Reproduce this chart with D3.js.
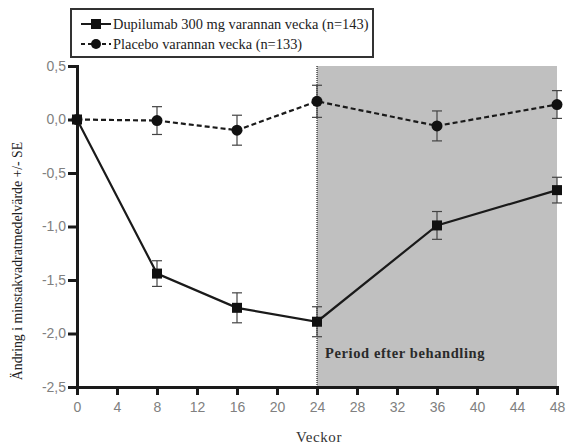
<!DOCTYPE html>
<html>
<head>
<meta charset="utf-8">
<script src="https://cdn.jsdelivr.net/npm/d3@7"></script>
<style>
  body { margin: 0; background: #fff; }
  svg { display: block; }
</style>
</head>
<body>
<svg id="chart" width="566" height="446"></svg>
<script>
// data
const weeks = [0, 8, 16, 24, 36, 48];
const dupilumab = [0, -1.44, -1.76, -1.89, -0.99, -0.66];
const dupilumabSE = [0, 0.12, 0.14, 0.14, 0.13, 0.12];
const placebo = [0, -0.01, -0.10, 0.17, -0.06, 0.14];
const placeboSE = [0, 0.13, 0.14, 0.15, 0.14, 0.13];
const xTicks = [0, 4, 8, 12, 16, 20, 24, 28, 32, 36, 40, 44, 48];
const yTicks = [0.5, 0, -0.5, -1, -1.5, -2, -2.5];
const legendLabels = ["Dupilumab 300 mg varannan vecka (n=143)", "Placebo varannan vecka (n=133)"];

const svg = d3.select("#chart");
const margin = { top: 66, right: 9, bottom: 59, left: 77 };
const width = 566, height = 446;

const x = d3.scaleLinear().domain([0, 48]).range([margin.left, width - margin.right]);
const y = d3.scaleLinear().domain([-2.5, 0.5]).range([height - margin.bottom, margin.top]);
const fmt = d => d3.format(".1f")(d).replace(".", ",").replace("−", "-");

// post-treatment shading
svg.append("rect")
  .attr("x", x(24)).attr("y", y(0.5))
  .attr("width", x(48) - x(24)).attr("height", y(-2.5) - y(0.5))
  .attr("fill", "#c0c0c0");

svg.append("line")
  .attr("x1", x(24)).attr("x2", x(24))
  .attr("y1", y(0.5)).attr("y2", y(-2.5))
  .attr("stroke", "#222").attr("stroke-width", 1.2)
  .attr("stroke-dasharray", "1,1");

svg.append("text")
  .attr("x", x(24.8)).attr("y", y(-2.23))
  .attr("font-family", "Liberation Serif, serif")
  .attr("font-weight", "bold").attr("font-size", 14.5)
  .attr("letter-spacing", 0.6)
  .attr("fill", "#2a2a2a")
  .text("Period efter behandling");

// axes
const yAxis = svg.append("g")
  .attr("transform", `translate(${margin.left},0)`)
  .call(d3.axisLeft(y).tickValues(yTicks).tickFormat(fmt).tickSize(9).tickPadding(2));
const xAxis = svg.append("g")
  .attr("transform", `translate(0,${height - margin.bottom})`)
  .call(d3.axisBottom(x).tickValues(xTicks).tickSize(8).tickPadding(7));

[xAxis, yAxis].forEach(g => {
  g.select(".domain").attr("stroke", "#1a1a1a").attr("stroke-width", 3);
  g.selectAll(".tick line").attr("stroke", "#1a1a1a").attr("stroke-width", 3);
  g.selectAll(".tick text")
    .attr("fill", "#808080")
    .attr("font-family", "Liberation Sans, Arial, sans-serif")
    .attr("font-size", 14);
});

svg.append("text")
  .attr("x", 319).attr("y", 442)
  .attr("text-anchor", "middle")
  .attr("font-family", "Liberation Serif, serif")
  .attr("font-size", 15).attr("letter-spacing", 0.6).attr("fill", "#333")
  .text("Veckor");

svg.append("text")
  .attr("transform", "translate(22,261) rotate(-90)")
  .attr("text-anchor", "middle")
  .attr("font-family", "Liberation Serif, serif")
  .attr("font-size", 13.8).attr("fill", "#222")
  .text("Ändring i minstakvadratmedelvärde +/- SE");

// series
const series = [
  { vals: placebo, se: placeboSE, dash: "5,3", shape: "circle" },
  { vals: dupilumab, se: dupilumabSE, dash: null, shape: "square" }
];

const line = d3.line().x(d => x(d[0])).y(d => y(d[1]));

series.forEach(s => {
  const pts = weeks.map((w, i) => [w, s.vals[i], s.se[i]]);

  const eb = svg.append("g").attr("stroke", "#444").attr("stroke-width", 1.2);
  pts.filter(d => d[2] > 0).forEach(d => {
    eb.append("line").attr("x1", x(d[0])).attr("x2", x(d[0]))
      .attr("y1", y(d[1] + d[2])).attr("y2", y(d[1] - d[2]));
    eb.append("line").attr("x1", x(d[0]) - 5).attr("x2", x(d[0]) + 5)
      .attr("y1", y(d[1] + d[2])).attr("y2", y(d[1] + d[2]));
    eb.append("line").attr("x1", x(d[0]) - 5).attr("x2", x(d[0]) + 5)
      .attr("y1", y(d[1] - d[2])).attr("y2", y(d[1] - d[2]));
  });

  svg.append("path")
    .datum(pts)
    .attr("d", line)
    .attr("fill", "none")
    .attr("stroke", "#1a1a1a")
    .attr("stroke-width", 2.2)
    .attr("stroke-dasharray", s.dash);

  if (s.shape === "circle") {
    svg.append("g").selectAll("circle").data(pts).join("circle")
      .attr("cx", d => x(d[0])).attr("cy", d => y(d[1])).attr("r", 5.5)
      .attr("fill", "#111");
  } else {
    svg.append("g").selectAll("rect").data(pts).join("rect")
      .attr("x", d => x(d[0]) - 5).attr("y", d => y(d[1]) - 5)
      .attr("width", 10).attr("height", 10)
      .attr("fill", "#111");
  }
});

// legend
const legend = svg.append("g");
legend.append("rect")
  .attr("x", 71).attr("y", 9).attr("width", 302).attr("height", 48)
  .attr("fill", "#fff").attr("stroke", "#333").attr("stroke-width", 2);

legendLabels.forEach((label, i) => {
  const ly = 24 + i * 20;
  legend.append("line")
    .attr("x1", 81).attr("x2", 111).attr("y1", ly).attr("y2", ly)
    .attr("stroke", "#1a1a1a").attr("stroke-width", 2)
    .attr("stroke-dasharray", i === 1 ? "4,3" : null);
  if (i === 0) {
    legend.append("rect").attr("x", 91).attr("y", ly - 5).attr("width", 10).attr("height", 10).attr("fill", "#111");
  } else {
    legend.append("circle").attr("cx", 96).attr("cy", ly).attr("r", 5).attr("fill", "#111");
  }
  legend.append("text")
    .attr("x", 113).attr("y", ly + 5)
    .attr("font-family", "Liberation Serif, serif")
    .attr("font-size", 14.4).attr("fill", "#222")
    .text(label);
});
</script>
</body>
</html>
